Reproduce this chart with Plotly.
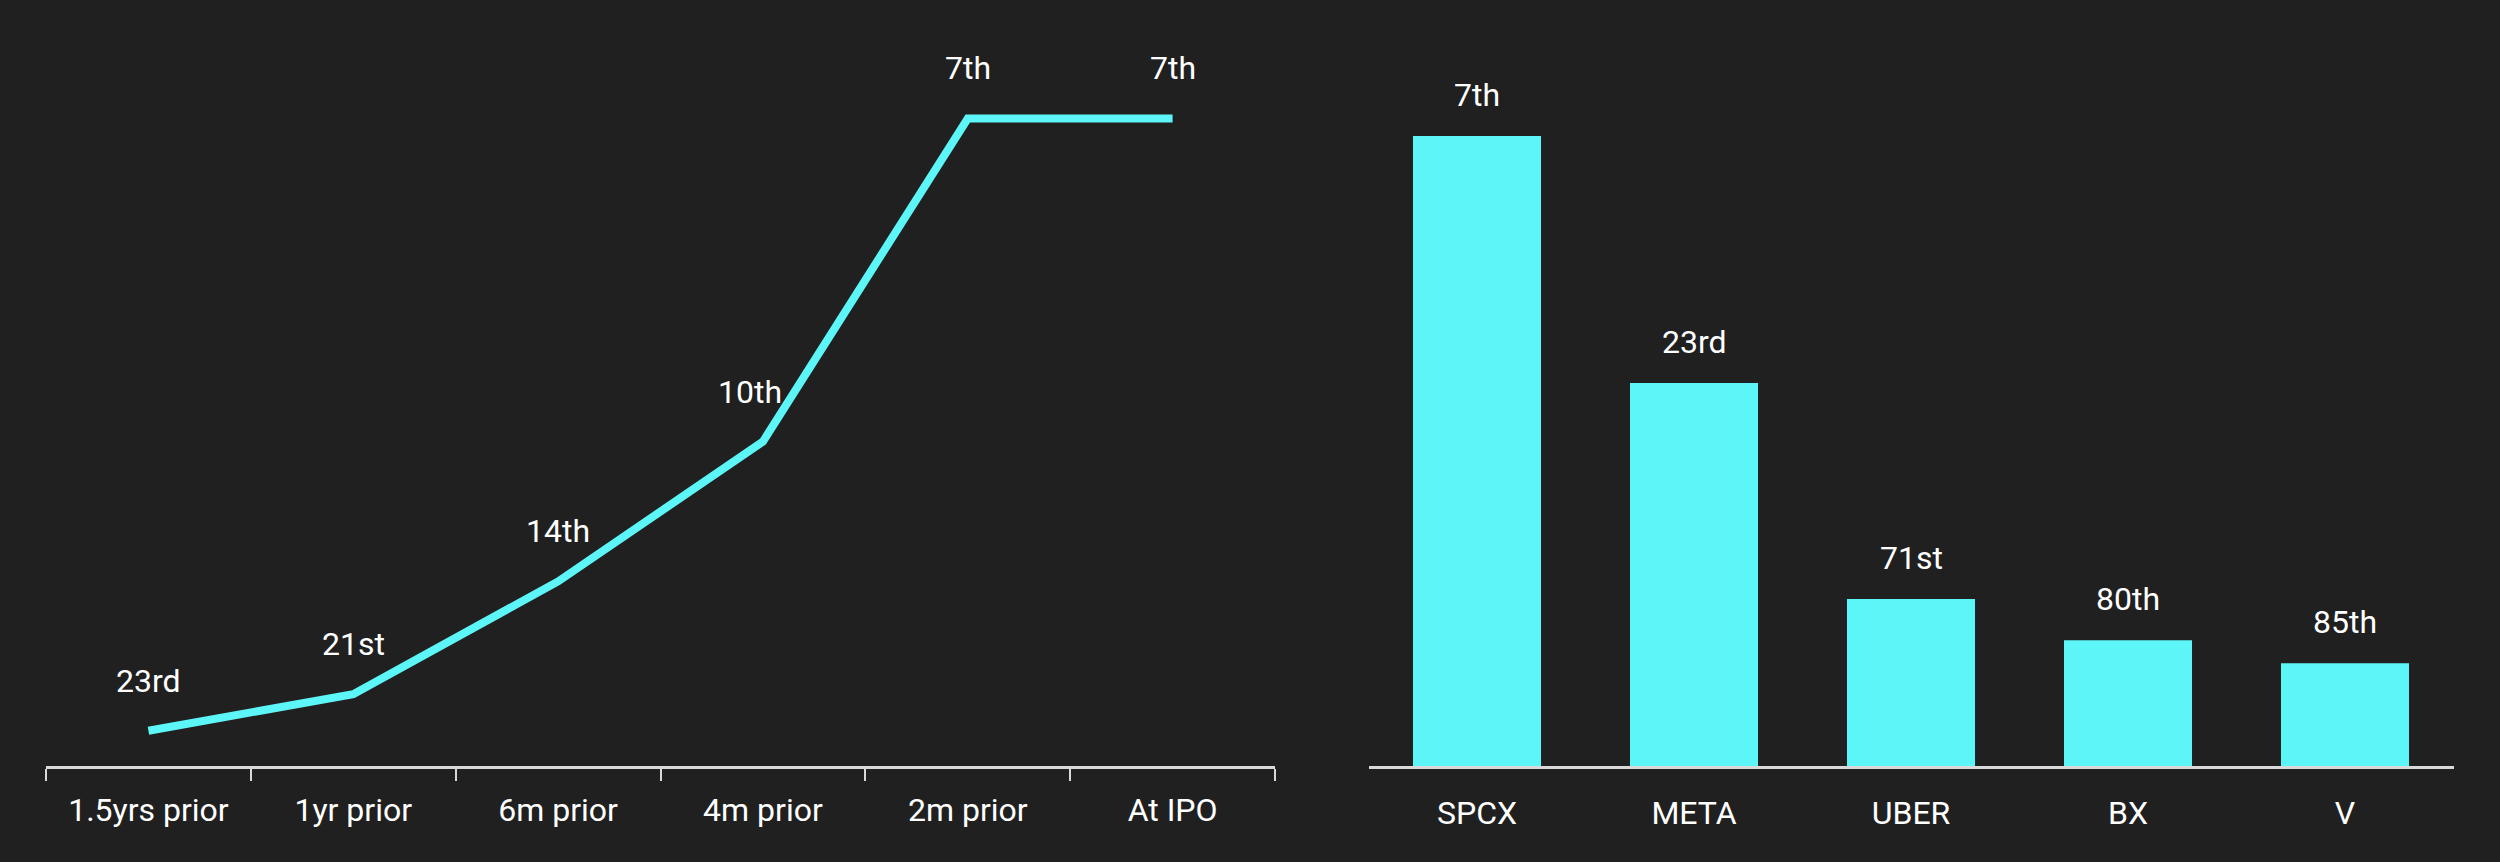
import plotly.graph_objects as go

# Rank over time (line, left) - heights, 7th place = 100
stages = ["1.5yrs prior", "1yr prior", "6m prior", "4m prior", "2m prior", "At IPO"]
stage_values = [5.45, 11.1, 28.5, 50.1, 100, 100]
stage_ranks = ["23rd", "21st", "14th", "10th", "7th", "7th"]

# Rank at IPO vs peers (bars, right) - SPCX = 100
tickers = ["SPCX", "META", "UBER", "BX", "V"]
ticker_values = [100, 60.8, 26.5, 19.95, 16.3]
ticker_ranks = ["7th", "23rd", "71st", "80th", "85th"]

CYAN = "#5DF6F8"
BG = "#202020"
AXIS = "#d9d9d9"
FONT = "Roboto, 'Noto Sans', sans-serif"

fig = go.Figure()

fig.add_trace(go.Scatter(
    x=stages, y=stage_values,
    mode="lines",
    line=dict(color=CYAN, width=8),
    xaxis="x", yaxis="y",
    hoverinfo="skip",
))

fig.add_trace(go.Bar(
    x=tickers, y=ticker_values,
    marker=dict(color=CYAN, line=dict(width=0)),
    width=0.59,
    xaxis="x2", yaxis="y2",
    hoverinfo="skip",
))

# rank labels
annotations = []
for s, v, r in zip(stages, stage_values, stage_ranks):
    annotations.append(dict(
        x=s, y=v, xref="x", yref="y", text=r, showarrow=False,
        yshift=50, xshift=-13 if r == "10th" else 0,
        font=dict(size=32, color="white", family=FONT),
    ))
for t, v, r in zip(tickers, ticker_values, ticker_ranks):
    annotations.append(dict(
        x=t, y=v, xref="x2", yref="y2", text=r, showarrow=False,
        yshift=41,
        font=dict(size=32, color="white", family=FONT),
    ))

fig.update_layout(
    width=2500, height=862,
    paper_bgcolor=BG, plot_bgcolor=BG,
    margin=dict(l=0, r=0, t=0, b=96),
    showlegend=False,
    font=dict(family=FONT, size=32, color="white"),
    annotations=annotations,
    xaxis=dict(
        domain=[46 / 2500, 1275 / 2500],
        type="category", range=[-0.5, 5.5],
        showline=True, linecolor=AXIS, linewidth=3,
        ticks="outside", tickson="boundaries", ticklen=12, tickwidth=2, tickcolor=AXIS,
        showgrid=False, zeroline=False,
        ticklabelstandoff=14,
        tickfont=dict(size=32, color="white"),
    ),
    yaxis=dict(
        range=[0, 118.3], visible=False, showgrid=False,
    ),
    xaxis2=dict(
        domain=[1368.5 / 2500, 2453.5 / 2500],
        type="category", range=[-0.5, 4.5],
        showline=True, linecolor=AXIS, linewidth=3,
        ticks="", showgrid=False, zeroline=False,
        ticklabelstandoff=17,
        tickfont=dict(size=32, color="white"),
        anchor="y2",
    ),
    yaxis2=dict(
        range=[0, 121.6], visible=False, showgrid=False, anchor="x2",
    ),
)

fig.write_html(
    "out.html",
    config={"displayModeBar": False},
    post_script="document.body.style.margin='0';",
)
